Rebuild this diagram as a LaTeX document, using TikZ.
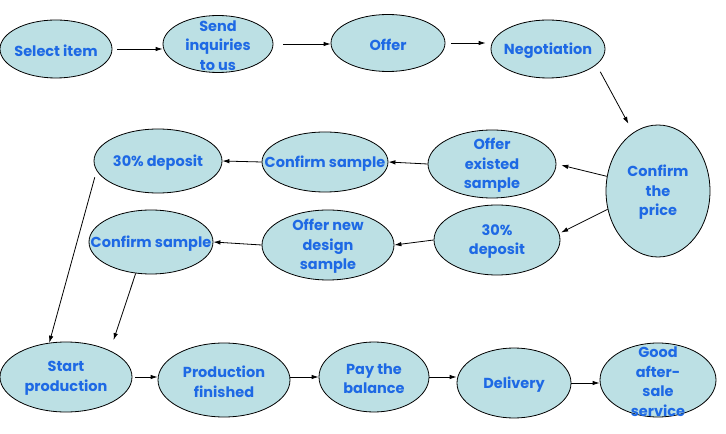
\documentclass[tikz,border=0pt]{standalone}
\usepackage{fontspec}
\setmainfont{Poppins}
\usetikzlibrary{arrows.meta,shapes.geometric}
\definecolor{ellfill}{RGB}{188,224,228}
\definecolor{txtblue}{RGB}{30,105,228}
\begin{document}
\begin{tikzpicture}[x=1bp,y=-1bp,
  ell/.style={draw=black, line width=0.8bp, fill=ellfill, ellipse, inner sep=0pt},
  txt/.style={text=txtblue, font=\fontsize{14.5bp}{19.5bp}\selectfont\bfseries, align=center, inner sep=0pt, yshift=-1.5bp},
  arr/.style={draw=black, line width=0.8bp, -{Latex[length=7bp,width=4.5bp]}},
  ln/.style={draw=black, line width=0.8bp}]
\useasboundingbox (0,0) rectangle (726,434);
% top row
\node[ell, minimum width=112bp, minimum height=58bp] (sel) at (56,49) {};
\node[txt] (selt) at (sel) {Select item};
\node[ell, minimum width=110bp, minimum height=57bp] (send) at (218,44) {};
\node[txt] (sendt) at (send) {Send\\inquiries\\to us};
\node[ell, minimum width=114bp, minimum height=57bp] (offer) at (388,43) {};
\node[txt] (offert) at (offer) {Offer};
\node[ell, minimum width=114bp, minimum height=58bp] (nego) at (548,49) {};
\node[txt] (negot) at (nego) {Negotiation};
% right
\node[ell, minimum width=104bp, minimum height=132bp] (price) at (658,191) {};
\node[txt] (pricet) at (price) {Confirm\\the\\price};
% middle rows
\node[ell, minimum width=128bp, minimum height=68bp] (oes) at (492,164) {};
\node[txt] (oest) at (oes) {Offer\\existed\\sample};
\node[ell, minimum width=126bp, minimum height=70bp] (dep2) at (497,240) {};
\node[txt] (dep2t) at (dep2) {30\%\\deposit};
\node[ell, minimum width=126bp, minimum height=60bp] (cs1) at (325,162) {};
\node[txt] (cs1t) at (cs1) {Confirm sample};
\node[ell, minimum width=128bp, minimum height=64bp] (dep1) at (158,161) {};
\node[txt] (dep1t) at (dep1) {30\% deposit};
\node[ell, minimum width=132bp, minimum height=70bp] (ons) at (328,245) {};
\node[txt] (onst) at (ons) {Offer new\\design\\sample};
\node[ell, minimum width=124bp, minimum height=64bp] (cs2) at (151,242) {};
\node[txt] (cs2t) at (cs2) {Confirm sample};
% bottom row
\node[ell, minimum width=132bp, minimum height=70bp] (start) at (66,377) {};
\node[txt] (startt) at (start) {Start\\production};
\node[ell, minimum width=132bp, minimum height=74bp] (pf) at (224,380) {};
\node[txt] (pft) at (pf) {Production\\finished};
\node[ell, minimum width=110bp, minimum height=70bp] (pay) at (374,377) {};
\node[txt] (payt) at (pay) {Pay the\\balance};
\node[ell, minimum width=114bp, minimum height=70bp] (del) at (514,383) {};
\node[txt] (delt) at (del) {Delivery};
\node[ell, minimum width=116bp, minimum height=74bp] (good) at (658,380) {};
\node[txt] (goodt) at (good) {Good\\after-\\sale\\service};
% connectors
\draw[arr, shorten <=5bp] (sel.east) -- (sel.east -| send.west);
\draw[arr, shorten <=10bp] (send.east) -- (send.east -| offer.west);
\draw[arr, shorten <=6bp, shorten >=5bp] (offer.east) -- (offer.east -| nego.west);
\draw[arr, shorten <=8bp, shorten >=10bp] (nego.-18) -- (price.113);
\draw[arr, shorten >=5bp] (price.164) -- (oes.east);
\draw[arr, shorten >=2bp] (price.200) -- (dep2.6);
\draw[arr] (oes.west) -- (cs1.east);
\draw[arr] (cs1.west) -- (dep1.east);
\draw[arr] (dep2.west) -- (ons.east);
\draw[arr] (ons.west) -- (cs2.east);
\draw[arr, shorten <=6.8bp] (dep1.189) -- (start.116);
\draw[arr, shorten >=11bp] (cs2.244) -- (start.31);
\draw[arr, shorten <=3bp] (start.east) -- (start.east -| pf.west);
\draw[arr] (pay.west -| pf.east) -- (pay.west);
\draw[arr] (pay.east) -- (pay.east -| del.west);
\draw[arr] (del.east) -- (del.east -| good.west);
\end{tikzpicture}
\end{document}
